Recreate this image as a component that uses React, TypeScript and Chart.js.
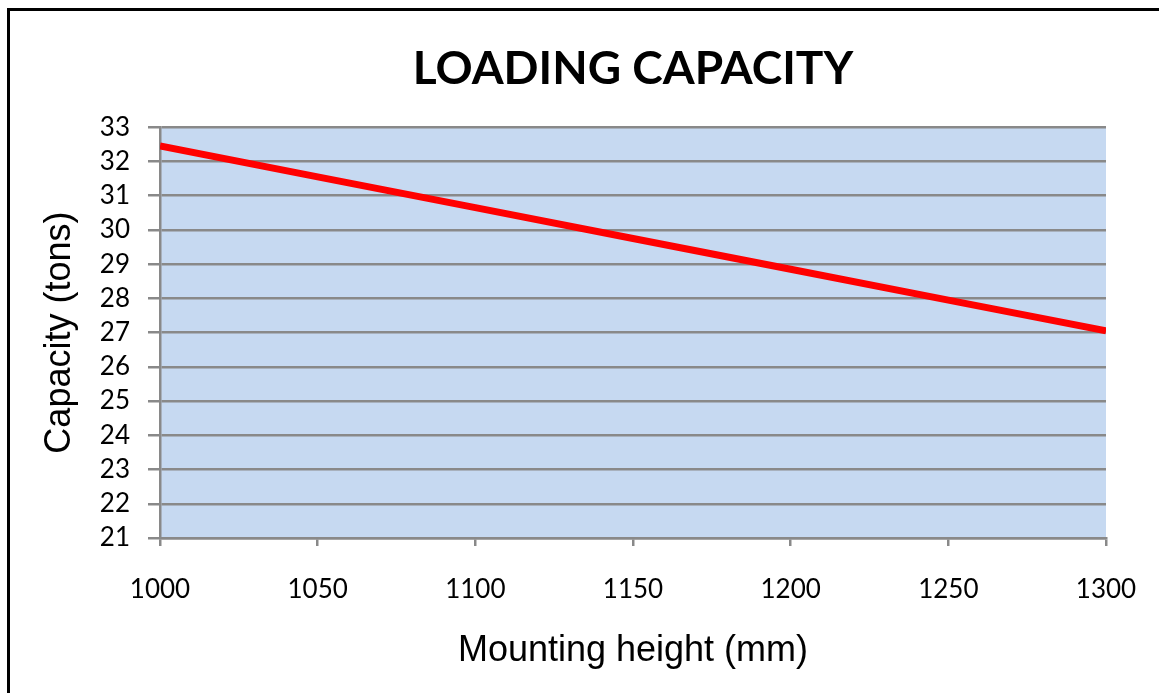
import React, { useEffect, useRef } from "react";
import { Chart, registerables } from "chart.js";

Chart.register(...registerables);

// ---- data ----
const mountingHeights = [1000, 1050, 1100, 1150, 1200, 1250, 1300];
const capacities = [32.45, 31.55, 30.65, 29.75, 28.85, 27.95, 27.05];
const yMin = 21;
const yMax = 33;
const yStep = 1;
const xMin = 1000;
const xMax = 1300;
const xStep = 50;
const chartTitle = "LOADING CAPACITY";
const xAxisTitle = "Mounting height (mm)";
const yAxisTitle = "Capacity (tons)";

const GRID = "#898989";

const plotBackground = {
  id: "plotBackground",
  beforeDraw(chart: any) {
    const { ctx, chartArea } = chart;
    if (!chartArea) return;
    ctx.save();
    ctx.fillStyle = "#c6d9f1";
    ctx.fillRect(chartArea.left, chartArea.top, chartArea.right - chartArea.left, chartArea.bottom - chartArea.top);
    ctx.restore();
  },
};

export default function App() {
  const canvasRef = useRef<HTMLCanvasElement | null>(null);

  useEffect(() => {
    let chart: Chart | null = null;
    let cancelled = false;
    const make = () => {
      if (cancelled || !canvasRef.current) return;
      chart = new Chart(canvasRef.current, {
        type: "line",
        data: {
          datasets: [
            {
              data: mountingHeights.map((h, i) => ({ x: h, y: capacities[i] })),
              borderColor: "#ff0000",
              borderWidth: 7,
              pointRadius: 0,
              tension: 0,
              fill: false,
            },
          ],
        },
        options: {
          animation: false,
          responsive: false,
          devicePixelRatio: 1,
          layout: { padding: { left: 0, right: 53, top: 0, bottom: 0 } },
          plugins: {
            legend: { display: false },
            tooltip: { enabled: false },
            title: {
              display: true,
              fullSize: false,
              text: chartTitle,
              color: "#000",
              font: { family: "Lato", weight: "bold", size: 46 },
              padding: { top: 42, bottom: 30 },
            },
          },
          scales: {
            x: {
              type: "linear",
              min: xMin,
              max: xMax,
              afterFit(scale: any) {
                scale.height = 155;
                scale.paddingLeft = 0;
                scale.paddingRight = 0;
              },
              ticks: {
                stepSize: xStep,
                color: "#000",
                font: { family: "Lato", size: 26 },
                padding: 28,
                maxRotation: 0,
                callback: (v: any) => String(v),
              },
              grid: {
                drawOnChartArea: false,
                drawTicks: true,
                tickLength: 8,
                color: GRID,
                lineWidth: 2.5,
              },
              border: { display: true, color: GRID, width: 2.5 },
              title: {
                display: true,
                text: xAxisTitle,
                color: "#000",
                font: { family: "Liberation Sans", size: 36 },
                padding: { top: 0, bottom: 20 },
              },
            },
            y: {
              type: "linear",
              min: yMin,
              max: yMax,
              afterFit(scale: any) {
                scale.width = 160;
              },
              ticks: {
                stepSize: yStep,
                color: "#000",
                font: { family: "Lato", size: 26 },
                padding: 18,
                callback: (v: any) => String(v),
              },
              grid: {
                drawOnChartArea: true,
                drawTicks: true,
                tickLength: 12,
                color: GRID,
                lineWidth: 2.5,
              },
              border: { display: true, color: GRID, width: 2.5 },
              title: {
                display: true,
                text: yAxisTitle,
                color: "#000",
                font: { family: "Liberation Sans", size: 36 },
                padding: { top: 38, bottom: 0 },
              },
            },
          },
        },
        plugins: [plotBackground],
      } as any);
    };
    const fonts = (document as any).fonts;
    if (fonts && fonts.load) {
      Promise.all([
        fonts.load('bold 46px "Lato"'),
        fonts.load('26px "Lato"'),
        fonts.load('36px "Liberation Sans"'),
      ])
        .catch(() => null)
        .then(make);
    } else {
      make();
    }
    return () => {
      cancelled = true;
      if (chart) chart.destroy();
    };
  }, []);

  return (
    <div style={{ position: "fixed", left: 0, top: 0, width: 1159, height: 693, overflow: "hidden", background: "#fff" }}>
      <div
        style={{
          position: "absolute",
          left: 7,
          top: 8,
          width: 1300,
          height: 800,
          borderTop: "3px solid #000",
          borderLeft: "3px solid #000",
          boxSizing: "border-box",
        }}
      />
      <canvas ref={canvasRef} width={1159} height={693} style={{ position: "absolute", left: 0, top: 0, width: 1159, height: 693 }} />
    </div>
  );
}
